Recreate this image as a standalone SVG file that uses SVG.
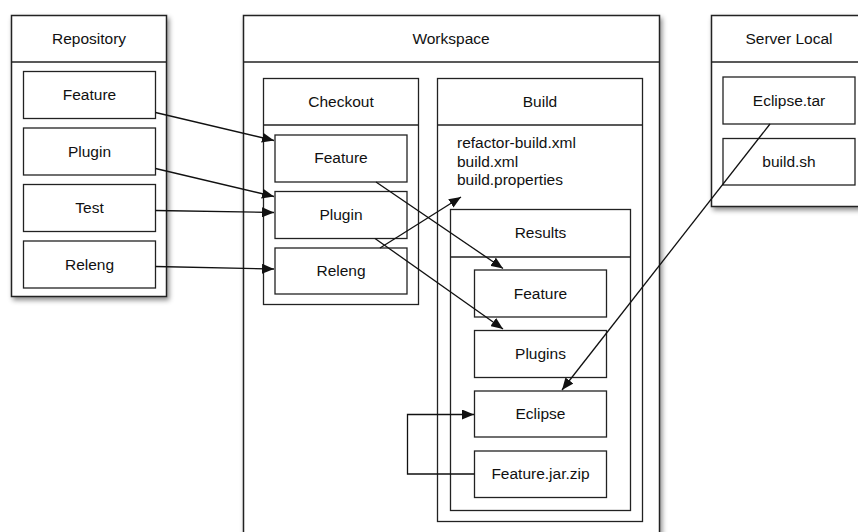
<svg xmlns="http://www.w3.org/2000/svg" width="858" height="532" viewBox="0 0 858 532">
<style>
.box{fill:#fff;stroke:#222;stroke-width:1.3}
.outer{fill:#fff;stroke:#222;stroke-width:1.5;filter:url(#sh)}
.t{font-family:"Liberation Sans",Arial,sans-serif;font-size:15.5px;fill:#111;text-anchor:middle}
.tl{font-family:"Liberation Sans",Arial,sans-serif;font-size:15.5px;fill:#111}
.c{fill:none;stroke:#111;stroke-width:1.3;marker-end:url(#ah)}
</style>
<defs>
<filter id="sh" x="-10%" y="-10%" width="130%" height="130%">
<feDropShadow dx="2" dy="3" stdDeviation="2.5" flood-color="#000" flood-opacity="0.45"/>
</filter>
<marker id="ah" viewBox="0 0 12 10" refX="12" refY="5" markerWidth="12" markerHeight="10" markerUnits="userSpaceOnUse" orient="auto">
<path d="M0,0 L12,5 L0,10 z" fill="#111"/>
</marker>
</defs>
<g id="repository">
<rect class="outer" x="11.5" y="15.5" width="155" height="281"/>
<line class="box" x1="11.5" y1="62" x2="166.5" y2="62"/>
<text class="t" x="89" y="44">Repository</text>
</g>
<g id="repo-feature"><rect class="box" x="23.5" y="71.5" width="132" height="47"/><text class="t" x="89.5" y="100">Feature</text></g>
<g id="repo-plugin"><rect class="box" x="23.5" y="128" width="132" height="47"/><text class="t" x="89.5" y="157">Plugin</text></g>
<g id="repo-test"><rect class="box" x="23.5" y="184.5" width="132" height="47"/><text class="t" x="89.5" y="213">Test</text></g>
<g id="repo-releng"><rect class="box" x="23.5" y="241" width="132" height="47"/><text class="t" x="89.5" y="270">Releng</text></g>

<g id="workspace">
<rect class="outer" x="243.5" y="15.5" width="416" height="530"/>
<line class="box" x1="243.5" y1="62" x2="659.5" y2="62"/>
<text class="t" x="451" y="44">Workspace</text>
</g>
<g id="checkout">
<rect class="box" x="263.5" y="78.5" width="155" height="226"/>
<line class="box" x1="263.5" y1="125" x2="418.5" y2="125"/>
<text class="t" x="341" y="107">Checkout</text>
</g>
<g id="co-feature"><rect class="box" x="275" y="135" width="132" height="47"/><text class="t" x="341" y="163">Feature</text></g>
<g id="co-plugin"><rect class="box" x="275" y="191.5" width="132" height="47"/><text class="t" x="341" y="220">Plugin</text></g>
<g id="co-releng"><rect class="box" x="275" y="248" width="132" height="46"/><text class="t" x="341" y="276">Releng</text></g>

<g id="build">
<rect class="box" x="437.5" y="78.5" width="205" height="443"/>
<line class="box" x1="437.5" y1="125" x2="642.5" y2="125"/>
<text class="t" x="540" y="107">Build</text>
<text class="tl" x="457" y="148">refactor-build.xml</text>
<text class="tl" x="457" y="166.5">build.xml</text>
<text class="tl" x="457" y="185">build.properties</text>
</g>
<g id="results">
<rect class="box" x="450.5" y="209.5" width="180" height="301"/>
<line class="box" x1="450.5" y1="257" x2="630.5" y2="257"/>
<text class="t" x="540.5" y="238">Results</text>
</g>
<g id="res-feature"><rect class="box" x="474.5" y="270" width="132" height="47"/><text class="t" x="540.5" y="299">Feature</text></g>
<g id="res-plugins"><rect class="box" x="474.5" y="330.5" width="132" height="47"/><text class="t" x="540.5" y="359">Plugins</text></g>
<g id="res-eclipse"><rect class="box" x="474.5" y="391" width="132" height="46"/><text class="t" x="540.5" y="419">Eclipse</text></g>
<g id="res-featurejar"><rect class="box" x="474.5" y="451" width="132" height="46.5"/><text class="t" x="540.5" y="479">Feature.jar.zip</text></g>

<g id="server-local">
<rect class="outer" x="711.5" y="15.5" width="160" height="191"/>
<line class="box" x1="711.5" y1="62" x2="871.5" y2="62"/>
<text class="t" x="789" y="44">Server Local</text>
</g>
<g id="eclipse-tar"><rect class="box" x="723" y="77" width="132" height="47"/><text class="t" x="789" y="106">Eclipse.tar</text></g>
<g id="build-sh"><rect class="box" x="723" y="138.5" width="132" height="46.5"/><text class="t" x="789" y="167">build.sh</text></g>

<g id="connectors">
<line class="c" x1="155.5" y1="112.5" x2="274" y2="140.5"/>
<line class="c" x1="155.5" y1="168.5" x2="274" y2="196.5"/>
<line class="c" x1="155.5" y1="210.5" x2="274" y2="212.5"/>
<line class="c" x1="155.5" y1="266.5" x2="274" y2="269"/>
<line class="c" x1="376" y1="182" x2="503" y2="268.5"/>
<line class="c" x1="375" y1="238.5" x2="503" y2="329"/>
<line class="c" x1="380" y1="248" x2="461" y2="197"/>
<line class="c" x1="770" y1="124" x2="562" y2="390"/>
<polyline class="c" points="474.5,474 407.5,474 407.5,414.5 474,414.5"/>
</g>
</svg>
